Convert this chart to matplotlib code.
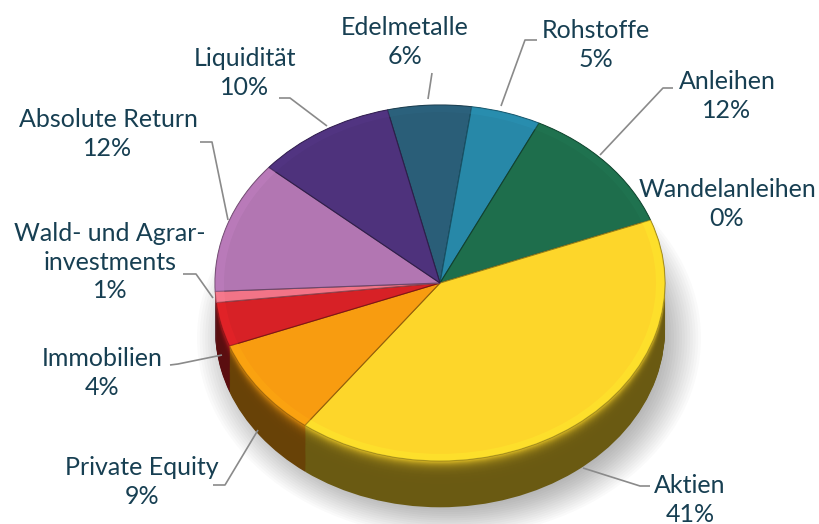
import numpy as np
import matplotlib
matplotlib.use("Agg")
import matplotlib.pyplot as plt
from matplotlib.colors import to_rgb

# Data (clockwise, starting at the top with Edelmetalle)
categories = ['Edelmetalle', 'Rohstoffe', 'Anleihen', 'Wandelanleihen', 'Aktien',
              'Private Equity', 'Immobilien', 'Wald- und Agrar-\ninvestments',
              'Absolute Return', 'Liquidität']
shares = [6, 5, 12, 0, 41, 9, 4, 1, 12, 10]
colors = ['#2a5e78', '#2788a8', '#1e6e4c', '#3a7a5a', '#fdd62a',
          '#f89c10', '#d72126', '#f27487', '#b276b2', '#4e327c']

# label layout in pixels (text centre, leader line points from label to pie)
label_xy = [(405, 42), (596, 45), (727, 96), (727, 204), (690, 500),
            (142, 482), (102, 373), (110, 262), (108, 134), (245, 73)]
leaders = [[(432, 73), (428, 99)],
           [(537, 40), (525, 40), (501, 106)],
           [(673, 88), (663, 88), (600, 155)],
           None,
           [(650, 486), (640, 486), (583, 468)],
           [(213, 485), (225, 485), (258, 430)],
           [(170, 365), (178, 364), (222, 355)],
           [(183, 274), (196, 274), (213, 298)],
           [(200, 142), (212, 142), (228, 220)],
           [(279, 98), (290, 98), (327, 126)]]

W, H = 820, 524
CX, CY, RX, RY = 440, 283, 225, 178
DEPTH = 0.26
START = 103.5


def to_data(px, py):
    return (px - CX) / RX, (CY - py) / RY


def shade(c, f):
    r, g, b = to_rgb(c)
    return (min(r * f, 1), min(g * f, 1), min(b * f, 1))


fig = plt.figure(figsize=(W / 100, H / 100), dpi=100)
ax = fig.add_axes([0, 0, 1, 1])

# soft drop shadow
for k in range(16):
    r = 1.12 - k * 0.012
    ax.pie([1], radius=r, center=(0.04, -DEPTH - 0.05), colors=['#000000'],
           wedgeprops=dict(linewidth=0, alpha=0.02))

# side of the cylinder: stacked layers shifted downwards
n = 44
for i in range(n + 1):
    t = i / n
    d = DEPTH * (1 - t)
    f = 0.42 + 0.52 * t ** 9
    ax.pie(shares, startangle=START, counterclock=False, center=(0, -d),
           colors=[shade(c, f) for c in colors],
           wedgeprops=dict(linewidth=0))

# top surface
wedges, _ = ax.pie(shares, startangle=START, counterclock=False,
                   colors=colors,
                   wedgeprops=dict(linewidth=0.8))
for w, c in zip(wedges, colors):
    w.set_edgecolor(shade(c, 0.6))

# light bevel along the rim
ax.pie(shares, startangle=START, counterclock=False,
       colors=[shade(c, 1.12) for c in colors],
       wedgeprops=dict(width=0.04, linewidth=0, alpha=0.35))

# labels and leader lines
text_color = '#173f52'
for name, v, (px, py), pts in zip(categories, shares, label_xy, leaders):
    x, y = to_data(px, py)
    ax.text(x, y, f'{name}\n{v}%', ha='center', va='center', fontsize=18,
            family=['Lato', 'DejaVu Sans'], color=text_color, linespacing=1.27)
    if pts:
        xs, ys = zip(*[to_data(a, b) for a, b in pts])
        ax.plot(xs, ys, color='#8a8a8a', lw=1.2, solid_capstyle='butt')

ax.set_aspect('auto')
ax.set_xlim(to_data(0, 0)[0], to_data(W, 0)[0])
ax.set_ylim(to_data(0, H)[1], to_data(0, 0)[1])
ax.axis('off')

fig.savefig('out.png', dpi=100, facecolor='white')
